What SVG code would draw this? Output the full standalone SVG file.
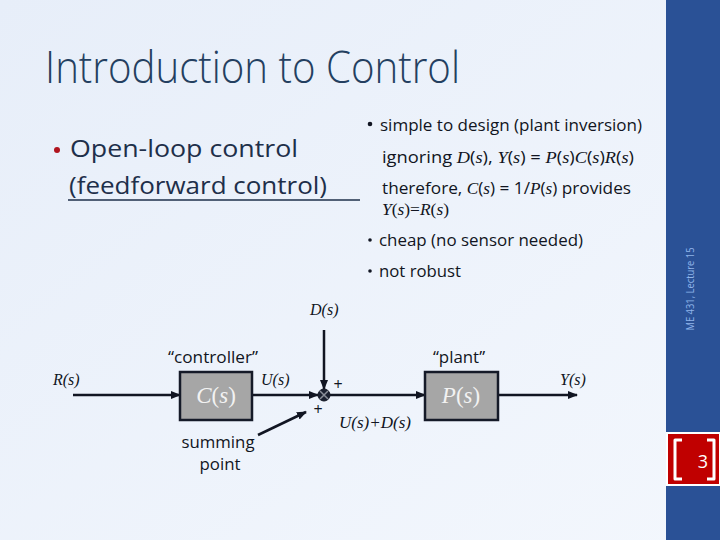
<svg xmlns="http://www.w3.org/2000/svg" width="720" height="540" viewBox="0 0 720 540">
<defs>
<linearGradient id="bg" x1="0" y1="0" x2="1" y2="1">
<stop offset="0" stop-color="#e7eef9"/>
<stop offset="1" stop-color="#f3f7fd"/>
</linearGradient>
<marker id="ah" viewBox="0 0 10 10" refX="9" refY="5" markerWidth="4" markerHeight="4" orient="auto" markerUnits="strokeWidth">
<path d="M0,1 L10,5 L0,9 Z" fill="#111522"/>
</marker>
<style>
.ui{font-family:"Open Sans","Noto Sans","Liberation Sans",sans-serif;}
.m{font-family:"Liberation Serif","DejaVu Serif",serif;font-style:italic;}
.lbl{font-size:16px;fill:#111522;}
.box{fill:#a6a6a6;stroke:#151a28;stroke-width:2.5;}
.boxt{font-size:23px;fill:#f2f2f2;text-anchor:middle;}
.wire{stroke:#111522;stroke-width:2.5;fill:none;}
.bul{font-size:16px;fill:#111522;}
</style>
</defs>
<rect x="0" y="0" width="720" height="540" fill="url(#bg)"/>
<rect x="666" y="0" width="54" height="540" fill="#2a5196"/>
<text class="ui" x="0" y="0" transform="translate(694,289) rotate(-90)" text-anchor="middle" font-size="11" fill="#8fb4ea" textLength="83" lengthAdjust="spacingAndGlyphs">ME 431, Lecture 15</text>
<g id="pagenum">
<rect x="667" y="433" width="53" height="52" fill="#c00000" stroke="#ffffff" stroke-width="2"/>
<path d="M682,440 L675,440 L675,479 L682,479" fill="none" stroke="#ffffff" stroke-width="3" stroke-linejoin="round"/>
<path d="M707,440 L714,440 L714,479 L707,479" fill="none" stroke="#ffffff" stroke-width="3" stroke-linejoin="round"/>
<text class="ui" x="703" y="468" font-size="18" fill="#ffffff" text-anchor="middle">3</text>
</g>
<text id="title" class="ui" x="45" y="83" font-size="44" font-weight="300" fill="#243f60" textLength="415" lengthAdjust="spacingAndGlyphs">Introduction to Control</text>
<g id="left-bullet">
<circle cx="57" cy="150" r="3" fill="#b0141e"/>
<text class="ui" x="70" y="157" font-size="23" fill="#1e2f4a" textLength="228" lengthAdjust="spacingAndGlyphs">Open-loop control</text>
<text class="ui" x="69" y="194" font-size="23" fill="#1e2f4a" textLength="258" lengthAdjust="spacingAndGlyphs">(feedforward control)</text>
<line x1="68" y1="200" x2="360" y2="200" stroke="#1e2f4a" stroke-width="1.5"/>
</g>
<g id="right-bullets">
<circle cx="370" cy="124" r="2.3" fill="#111522"/>
<text class="ui bul" x="380" y="131" textLength="262" lengthAdjust="spacingAndGlyphs">simple to design (plant inversion)</text>
<text class="bul" x="382" y="163" textLength="252" lengthAdjust="spacingAndGlyphs"><tspan class="ui">ignoring </tspan><tspan class="m">D</tspan><tspan class="ui">(</tspan><tspan class="m">s</tspan><tspan class="ui">), </tspan><tspan class="m">Y</tspan><tspan class="ui">(</tspan><tspan class="m">s</tspan><tspan class="ui">) = </tspan><tspan class="m">P</tspan><tspan class="ui">(</tspan><tspan class="m">s</tspan><tspan class="ui">)</tspan><tspan class="m">C</tspan><tspan class="ui">(</tspan><tspan class="m">s</tspan><tspan class="ui">)</tspan><tspan class="m">R</tspan><tspan class="ui">(</tspan><tspan class="m">s</tspan><tspan class="ui">)</tspan></text>
<text class="bul" x="382" y="194" textLength="249" lengthAdjust="spacingAndGlyphs"><tspan class="ui">therefore, </tspan><tspan class="m">C</tspan><tspan class="ui">(</tspan><tspan class="m">s</tspan><tspan class="ui">) = 1/</tspan><tspan class="m">P</tspan><tspan class="ui">(</tspan><tspan class="m">s</tspan><tspan class="ui">) provides</tspan></text>
<text class="bul m" x="382" y="215" font-style="normal" textLength="67" lengthAdjust="spacingAndGlyphs"><tspan class="m">Y</tspan><tspan font-style="normal">(</tspan><tspan class="m">s</tspan><tspan font-style="normal">)=</tspan><tspan class="m">R</tspan><tspan font-style="normal">(</tspan><tspan class="m">s</tspan><tspan font-style="normal">)</tspan></text>
<circle cx="370" cy="240" r="1.8" fill="#111522"/>
<text class="ui bul" x="379" y="246" textLength="204" lengthAdjust="spacingAndGlyphs">cheap (no sensor needed)</text>
<circle cx="370" cy="271" r="1.8" fill="#111522"/>
<text class="ui bul" x="379" y="277" textLength="82" lengthAdjust="spacingAndGlyphs">not robust</text>
</g>
<g id="connectors">
<line class="wire" x1="73" y1="395" x2="180" y2="395" marker-end="url(#ah)"/>
<line class="wire" x1="252" y1="395" x2="318" y2="395" marker-end="url(#ah)"/>
<line class="wire" x1="324" y1="330" x2="324" y2="389" marker-end="url(#ah)"/>
<line class="wire" x1="330" y1="395" x2="425" y2="395" marker-end="url(#ah)"/>
<line class="wire" x1="498" y1="395" x2="577" y2="395" marker-end="url(#ah)"/>
<line class="wire" x1="258" y1="435" x2="306" y2="412" stroke-width="3" marker-end="url(#ah)"/>
</g>
<g id="controller">
<rect class="box" x="180" y="372" width="72" height="48"/>
<text class="m boxt" x="216" y="403">C<tspan font-style="normal">(</tspan>s<tspan font-style="normal">)</tspan></text>
<text class="ui lbl" x="213" y="363" text-anchor="middle" textLength="90" lengthAdjust="spacingAndGlyphs">“controller”</text>
</g>
<g id="plant">
<rect class="box" x="425" y="372" width="73" height="48"/>
<text class="m boxt" x="461" y="403">P<tspan font-style="normal">(</tspan>s<tspan font-style="normal">)</tspan></text>
<text class="ui lbl" x="459" y="363" text-anchor="middle" textLength="52" lengthAdjust="spacingAndGlyphs">“plant”</text>
</g>
<g id="summing">
<circle cx="324" cy="395" r="6" fill="#1a2030" stroke="#111522" stroke-width="1"/>
<path d="M320,391 L328,399 M328,391 L320,399" stroke="#8a8f99" stroke-width="1.5"/>
<text class="ui lbl" x="338" y="390" text-anchor="middle" font-size="17">+</text>
<text class="ui lbl" x="318" y="415" text-anchor="middle" font-size="17">+</text>
<text class="ui lbl" x="218" y="448" text-anchor="middle" font-size="17" textLength="73" lengthAdjust="spacingAndGlyphs">summing</text>
<text class="ui lbl" x="220" y="470" text-anchor="middle" font-size="17" textLength="41" lengthAdjust="spacingAndGlyphs">point</text>
</g>
<g id="labels">
<text class="lbl" x="310" y="315"><tspan class="m">D</tspan><tspan class="m" font-style="normal">(</tspan><tspan class="m">s</tspan><tspan class="m" font-style="normal">)</tspan></text>
<text class="lbl" x="53" y="385"><tspan class="m">R</tspan><tspan class="m" font-style="normal">(</tspan><tspan class="m">s</tspan><tspan class="m" font-style="normal">)</tspan></text>
<text class="lbl" x="261" y="385"><tspan class="m">U</tspan><tspan class="m" font-style="normal">(</tspan><tspan class="m">s</tspan><tspan class="m" font-style="normal">)</tspan></text>
<text class="lbl" x="339" y="428" textLength="72" lengthAdjust="spacingAndGlyphs"><tspan class="m">U</tspan><tspan class="m" font-style="normal">(</tspan><tspan class="m">s</tspan><tspan class="m" font-style="normal">)+</tspan><tspan class="m">D</tspan><tspan class="m" font-style="normal">(</tspan><tspan class="m">s</tspan><tspan class="m" font-style="normal">)</tspan></text>
<text class="lbl" x="560" y="385"><tspan class="m">Y</tspan><tspan class="m" font-style="normal">(</tspan><tspan class="m">s</tspan><tspan class="m" font-style="normal">)</tspan></text>
</g>
</svg>
